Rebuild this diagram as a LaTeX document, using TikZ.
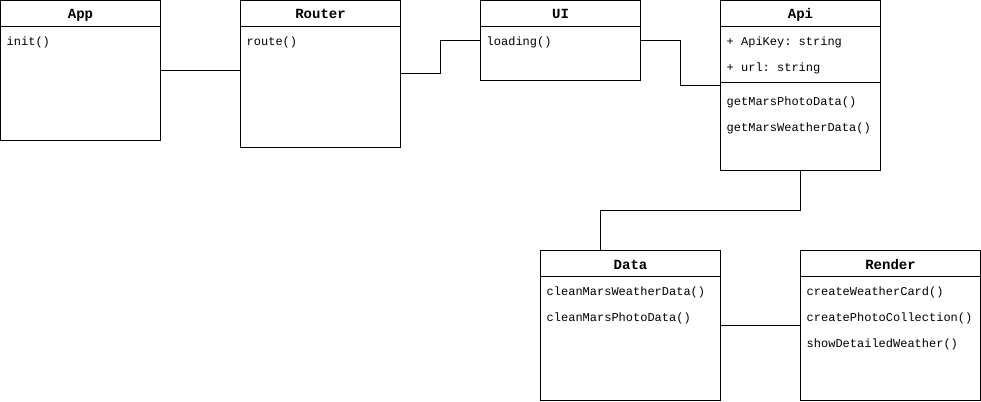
\documentclass[tikz,border=0pt]{standalone}
\usepackage{fontspec}
\setmonofont{Liberation Mono}
\usetikzlibrary{calc}
\tikzset{
  classbox/.style={draw=black, line width=1pt, fill=white, inner sep=0pt, outer sep=0pt, anchor=north west},
  ttl/.style={font=\ttfamily\bfseries\fontsize{14}{16}\selectfont, anchor=base, inner sep=0pt},
  mbr/.style={font=\ttfamily\fontsize{12}{14}\selectfont, anchor=base west, inner sep=0pt},
  sep/.style={line width=1pt},
  conn/.style={line width=1pt}
}
\begin{document}
\begin{tikzpicture}[x=1pt,y=-1pt]
\useasboundingbox (0,0) rectangle (981,401);
% boxes
\node[classbox, minimum width=160pt, minimum height=140pt] (app) at (0.5,0.5) {};
\node[classbox, minimum width=160pt, minimum height=147pt] (router) at (240.5,0.5) {};
\node[classbox, minimum width=160pt, minimum height=80pt] (ui) at (480.5,0.5) {};
\node[classbox, minimum width=160pt, minimum height=170pt] (api) at (720.5,0.5) {};
\node[classbox, minimum width=180pt, minimum height=150pt] (data) at (540.5,250.5) {};
\node[classbox, minimum width=180pt, minimum height=150pt] (render) at (800.5,250.5) {};
% header separators
\foreach \b in {app,router,ui,api,data,render}{
  \draw[sep] ($(\b.north west)+(0,26)$) -- ($(\b.north east)+(0,26)$);
}
\draw[sep] ($(api.north west)+(0,82)$) -- ($(api.north east)+(0,82)$);
% titles
\node[ttl] (appT) at ($(app.north)+(0,18.5)$) {App};
\node[ttl] (routerT) at ($(router.north)+(0,18.5)$) {Router};
\node[ttl] (uiT) at ($(ui.north)+(0,18.5)$) {UI};
\node[ttl] (apiT) at ($(api.north)+(0,18.5)$) {Api};
\node[ttl] (dataT) at ($(data.north)+(0,18.5)$) {Data};
\node[ttl] (renderT) at ($(render.north)+(0,18.5)$) {Render};
% members
\node[mbr] (app1) at ($(app.north west)+(6,45)$) {init()};
\node[mbr] (router1) at ($(router.north west)+(6,45)$) {route()};
\node[mbr] (ui1) at ($(ui.north west)+(6,45)$) {loading()};
\node[mbr] (api1) at ($(api.north west)+(6,45)$) {+ ApiKey: string};
\node[mbr] (api2) at ($(api.north west)+(6,71)$) {+ url: string};
\node[mbr] (api3) at ($(api.north west)+(6,105)$) {getMarsPhotoData()};
\node[mbr] (api4) at ($(api.north west)+(6,131)$) {getMarsWeatherData()};
\node[mbr] (data1) at ($(data.north west)+(6,45)$) {cleanMarsWeatherData()};
\node[mbr] (data2) at ($(data.north west)+(6,71)$) {cleanMarsPhotoData()};
\node[mbr] (render1) at ($(render.north west)+(6,45)$) {createWeatherCard()};
\node[mbr] (render2) at ($(render.north west)+(6,71)$) {createPhotoCollection()};
\node[mbr] (render3) at ($(render.north west)+(6,97)$) {showDetailedWeather()};
% connectors
\coordinate (appR) at ($(app.north east)+(0,70)$);
\draw[conn] (appR) -- (appR -| router.west);
\coordinate (routerR) at ($(router.north east)+(0,73)$);
\draw[conn] (routerR) -- ++(40,0) |- (ui.west);
\draw[conn] (ui.east) -- ++(40,0) |- (api.west);
\coordinate (dtop) at ($(data.north west)+(60,0)$);
\draw[conn] (api.south) -- ++(0,40) -| (dtop);
\draw[conn] (data.east) -- (render.west);
\end{tikzpicture}
\end{document}
